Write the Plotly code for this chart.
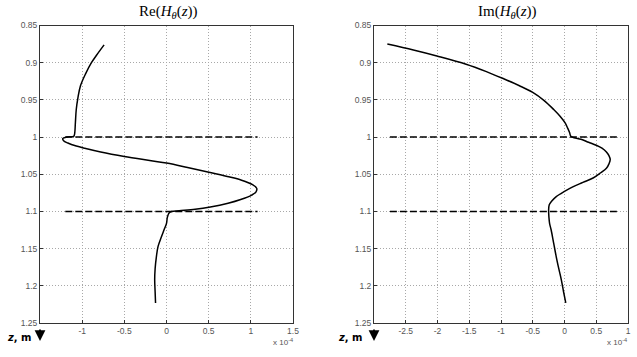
import plotly.graph_objects as go

# ---- data (x in units of 1e-4) ----
re_z = [0.876, 0.890, 0.900, 0.915, 0.931, 0.947, 0.963, 0.980, 0.996, 0.999, 1.000, 1.002,
        1.005, 1.008, 1.012, 1.015, 1.020, 1.026, 1.035, 1.041, 1.047, 1.053, 1.058, 1.064,
        1.069, 1.074, 1.078, 1.084, 1.089, 1.094, 1.097, 1.099, 1.100, 1.102, 1.108, 1.116,
        1.125, 1.134, 1.147, 1.161, 1.177, 1.192, 1.208, 1.223]
re_val = [-0.74, -0.83, -0.89, -0.96, -1.02, -1.05, -1.07, -1.08, -1.09, -1.10, -1.18, -1.23,
          -1.22, -1.17, -1.07, -0.97, -0.78, -0.50, 0.00, 0.25, 0.49, 0.72, 0.89, 1.02,
          1.07, 1.06, 1.01, 0.88, 0.73, 0.52, 0.34, 0.15, 0.06, 0.03, 0.01, 0.00,
          -0.03, -0.06, -0.10, -0.12, -0.135, -0.14, -0.135, -0.13]

im_z = [0.875, 0.883, 0.891, 0.902, 0.912, 0.922, 0.931, 0.940, 0.951, 0.963, 0.972, 0.981,
        0.988, 0.994, 0.999, 1.001, 1.003, 1.007, 1.011, 1.015, 1.020, 1.025, 1.030, 1.036,
        1.042, 1.048, 1.055, 1.061, 1.067, 1.073, 1.080, 1.086, 1.091, 1.098, 1.108, 1.116,
        1.125, 1.143, 1.161, 1.177, 1.192, 1.208, 1.223]
im_val = [-2.79, -2.38, -2.01, -1.55, -1.23, -0.95, -0.71, -0.50, -0.32, -0.17, -0.07, 0.01,
          0.05, 0.08, 0.10, 0.15, 0.26, 0.38, 0.50, 0.59, 0.66, 0.70, 0.72, 0.70,
          0.66, 0.57, 0.45, 0.29, 0.13, 0.00, -0.13, -0.20, -0.24, -0.25, -0.245, -0.235,
          -0.21, -0.17, -0.13, -0.09, -0.05, -0.015, 0.02]

boundary_z = [1.0, 1.1]
re_dash_x = [-1.2, 1.08]
im_dash_x = [-2.75, 0.85]

y_ticks = [0.85, 0.9, 0.95, 1.0, 1.05, 1.1, 1.15, 1.2, 1.25]
y_ticktext = ["0.85", "0.9", "0.95", "1", "1.05", "1.1", "1.15", "1.2", "1.25"]
re_xticks = [-1, -0.5, 0, 0.5, 1, 1.5]
re_xtext = ["-1", "-0.5", "0", "0.5", "1", "1.5"]
im_xticks = [-2.5, -2, -1.5, -1, -0.5, 0, 0.5, 1]
im_xtext = ["-2.5", "-2", "-1.5", "-1", "-0.5", "0", "0.5", "1"]

fig = go.Figure()
line = dict(color="black", width=1.5)
dline = dict(color="black", width=1.5, dash="7px,3px")

fig.add_trace(go.Scatter(x=re_val, y=re_z, mode="lines", line=dict(line, shape="spline"),
                         xaxis="x", yaxis="y", showlegend=False))
for bz in boundary_z:
    fig.add_trace(go.Scatter(x=re_dash_x, y=[bz, bz], mode="lines", line=dline,
                             xaxis="x", yaxis="y", showlegend=False))
fig.add_trace(go.Scatter(x=im_val, y=im_z, mode="lines", line=dict(line, shape="spline"),
                         xaxis="x2", yaxis="y2", showlegend=False))
for bz in boundary_z:
    fig.add_trace(go.Scatter(x=im_dash_x, y=[bz, bz], mode="lines", line=dline,
                             xaxis="x2", yaxis="y2", showlegend=False))

W, H = 637, 357
tickfont = dict(family="Liberation Sans, Arial", size=8.5, color="#555")
common_ax = dict(showgrid=True, gridcolor="#a8a8a8", griddash="1px,2px", gridwidth=1,
                 showline=True, mirror=True, linecolor="#333", linewidth=1,
                 zeroline=False, ticks="inside", ticklen=3, tickcolor="#333",
                 tickfont=tickfont, automargin=False)
ydom = [1 - 323 / H, 1 - 25.5 / H]

fig.update_layout(
    width=W, height=H, margin=dict(l=0, r=0, t=0, b=0, autoexpand=False),
    paper_bgcolor="white", plot_bgcolor="white",
    xaxis=dict(common_ax, domain=[40 / W, 293 / W], range=[-1.5, 1.5],
               tickvals=re_xticks, ticktext=re_xtext, anchor="y"),
    yaxis=dict(common_ax, domain=ydom, range=[1.25, 0.85],
               tickvals=y_ticks, ticktext=y_ticktext, anchor="x"),
    xaxis2=dict(common_ax, domain=[374 / W, 628 / W], range=[-3, 1],
                tickvals=im_xticks, ticktext=im_xtext, anchor="y2"),
    yaxis2=dict(common_ax, domain=ydom, range=[1.25, 0.85],
                tickvals=y_ticks, ticktext=y_ticktext, anchor="x2"),
)

title_font = dict(family="Liberation Serif, Times New Roman", size=15, color="black")
anns = [
    dict(text="Re(<i>H</i><sub><i>θ</i></sub>(<i>z</i>))", x=168 / W, y=1 - 12 / H),
    dict(text="Im(<i>H</i><sub><i>θ</i></sub>(<i>z</i>))", x=507 / W, y=1 - 12 / H),
]
for a in anns:
    fig.add_annotation(xref="paper", yref="paper", showarrow=False, font=title_font,
                       xanchor="center", yanchor="middle", **a)

small = dict(family="Liberation Sans, Arial", size=8, color="#555")
for xr in [283 / W, 617 / W]:
    fig.add_annotation(xref="paper", yref="paper", x=xr, y=1 - 342 / H, showarrow=False,
                       text="x 10<sup>-4</sup>", font=small, xanchor="center", yanchor="middle")

zfont = dict(family="DejaVu Sans, Arial", size=10, color="black")
for (tx, ax_x) in [(19, 40), (350, 374)]:
    fig.add_annotation(xref="paper", yref="paper", x=tx / W, y=1 - 337 / H, showarrow=False,
                       text="<b><i>z</i>, m</b>", font=zfont, xanchor="center", yanchor="middle")
    fig.add_annotation(xref="paper", yref="paper", x=ax_x / W, y=1 - 341 / H,
                       ax=0, ay=-13, axref="pixel", ayref="pixel",
                       showarrow=True, arrowhead=2, arrowsize=1.2, arrowwidth=1.8,
                       arrowcolor="black", text="")

fig.write_html("out.html", config={"displayModeBar": False},
               post_script="document.body.style.margin='0';")
